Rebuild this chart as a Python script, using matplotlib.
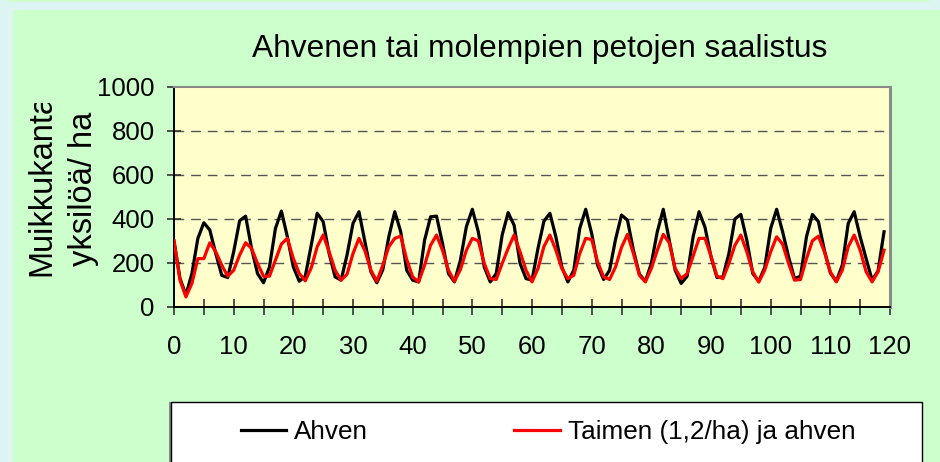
import matplotlib
matplotlib.use("Agg")
import matplotlib.pyplot as plt
import numpy as np
from matplotlib.patches import Rectangle
from matplotlib.lines import Line2D
from matplotlib.transforms import Bbox, TransformedBbox

plt.rcParams['font.family'] = ['Liberation Sans', 'DejaVu Sans']

title = "Ahvenen tai molempien petojen saalistus"
ylabel_lines = ["Muikkukanta", "yksilöä/ ha"]
labels = ["Ahven", "Taimen (1,2/ha) ja ahven"]

# muikkukanta, yksilöä / ha, vuodet 0..119
ahven = [300, 130, 55, 152, 312, 383, 350, 243, 144, 134,
         251, 392, 413, 266, 152, 110, 182, 357, 436, 319,
         182, 117, 140, 281, 426, 388, 243, 137, 122, 236,
         380, 433, 296, 160, 110, 170, 319, 433, 342, 167,
         122, 114, 304, 410, 413, 289, 152, 114, 213, 365,
         444, 342, 182, 114, 152, 327, 429, 372, 198, 129,
         122, 266, 390, 426, 319, 182, 114, 167, 357, 444,
         334, 190, 125, 167, 307, 418, 395, 258, 149, 117,
         198, 342, 444, 304, 167, 107, 140, 319, 433, 362,
         228, 134, 137, 243, 400, 421, 304, 152, 117, 179,
         357, 444, 342, 228, 129, 140, 319, 421, 388, 258,
         155, 117, 190, 380, 433, 319, 220, 122, 164, 342]
taimen_ahven = [300, 122, 46, 107, 220, 220, 292, 251, 190, 140,
                167, 236, 292, 266, 198, 140, 140, 213, 286, 312,
                220, 152, 119, 178, 274, 327, 251, 167, 122, 149,
                243, 312, 255, 167, 117, 190, 274, 312, 322, 216,
                137, 114, 190, 281, 327, 258, 167, 117, 170, 258,
                312, 301, 198, 129, 125, 198, 266, 327, 251, 167,
                114, 175, 275, 327, 258, 175, 129, 144, 243, 312,
                307, 205, 137, 125, 182, 271, 330, 243, 144, 114,
                175, 258, 330, 292, 175, 129, 152, 231, 312, 312,
                231, 140, 129, 198, 280, 327, 251, 160, 113, 167,
                251, 319, 286, 198, 122, 125, 220, 301, 322, 251,
                160, 114, 167, 274, 327, 258, 160, 114, 160, 258]
years = np.arange(len(ahven))

W, H = 940, 462
fig = plt.figure(figsize=(W / 100, H / 100), dpi=100)
fig.patch.set_facecolor('#dcf5f2')

# green chart area with cyan margin on left / top
fig.patches.append(Rectangle((13 / W, 0), 1, (H - 10) / H, transform=fig.transFigure,
                             facecolor='#ccffcc', edgecolor='none', zorder=-2))
fig.patches.append(Rectangle((8 / W, (H - 2) / H), (930 - 8) / W, 2 / H, transform=fig.transFigure,
                             facecolor='#ccffcc', edgecolor='none', zorder=-2))

ax = fig.add_axes([174 / W, (H - 307) / H, (890 - 174) / W, (307 - 87) / H])
ax.set_zorder(3)
ax.set_facecolor('#ffffcc')

ax.plot(years, ahven, color='black', lw=2.3, zorder=3)
ax.plot(years, taimen_ahven, color='#ff0000', lw=2.3, zorder=4)

ax.set_xlim(0, 120)
ax.set_ylim(0, 1000)
ax.set_xticks(np.arange(0, 121, 10))
ax.set_xticks(np.arange(0, 121, 5), minor=True)
ax.set_yticks(np.arange(0, 1001, 200))
ax.tick_params(axis='x', which='both', direction='inout', length=11, width=1.2, pad=15,
               labelsize=18.5, color='#333333')
ax.tick_params(axis='y', direction='inout', length=10, width=1.2, pad=9, labelsize=18.5,
               color='#333333')

for v in [200, 400, 600, 800]:
    ax.axhline(v, color='#555555', lw=1, dashes=(7, 5), zorder=1)

ax.spines['left'].set_color('black')
ax.spines['bottom'].set_color('black')
ax.spines['left'].set_linewidth(1.4)
ax.spines['bottom'].set_linewidth(1.4)
ax.spines['top'].set_color('#8a8a8a')
ax.spines['right'].set_color('#8a8a8a')
ax.spines['top'].set_linewidth(1.5)
ax.spines['right'].set_linewidth(2.2)

fig.text(540 / W, 1 - 57 / H, title, ha='center', va='baseline', fontsize=22.8)

# two-line y label, first line clipped at top as in the original
clip = TransformedBbox(Bbox([[0, 0], [1, 1 - 103 / H]]), fig.transFigure)
t1 = fig.text(50 / W, 1 - 185 / H, ylabel_lines[0], rotation=90, rotation_mode='anchor',
              ha='center', va='baseline', fontsize=23.5)
t1.set_clip_on(True)
t1.set_clip_box(clip)
fig.text(92 / W, 1 - 189 / H, ylabel_lines[1], rotation=90, rotation_mode='anchor',
         ha='center', va='baseline', fontsize=23.5)

# legend box (runs off the bottom edge)
fig.patches.append(Rectangle((169 / W, -0.05), (922 - 169) / W, 0.05 + (H - 402) / H,
                             transform=fig.transFigure, facecolor='#888888',
                             edgecolor='none', zorder=1))
fig.patches.append(Rectangle((171 / W, -0.05), (922 - 171) / W, 0.05 + (H - 402) / H,
                             transform=fig.transFigure, facecolor='white',
                             edgecolor='black', lw=1, zorder=2))
handles = [Line2D([], [], color='black', lw=2.3), Line2D([], [], color='#ff0000', lw=2.3)]
leg = fig.legend(handles, labels, ncol=2, loc='center', bbox_to_anchor=(548 / W, 1 - 432 / H),
                 frameon=False, fontsize=18.8, handlelength=1.75, handletextpad=0.3,
                 columnspacing=5.6)
leg.set_zorder(4)

fig.savefig('out.png', dpi=100, facecolor=fig.get_facecolor())
